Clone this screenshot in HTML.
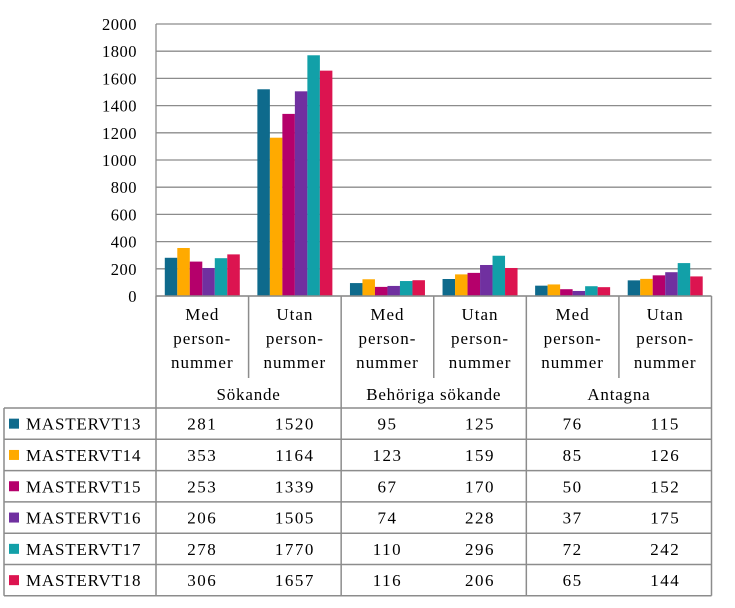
<!DOCTYPE html>
<html><head><meta charset="utf-8"><style>
html,body{margin:0;padding:0;background:#fff;}
svg{display:block;font-family:"Liberation Serif",serif;}
</style></head><body>
<svg id="chart" width="735" height="608" viewBox="0 0 735 608"></svg>
<script>
const categories=["Med person- nummer","Utan person- nummer","Med person- nummer","Utan person- nummer","Med person- nummer","Utan person- nummer"];
const groups=["Sökande","Behöriga sökande","Antagna"];
const seriesNames=["MASTERVT13","MASTERVT14","MASTERVT15","MASTERVT16","MASTERVT17","MASTERVT18"];
const s13=[281,1520,95,125,76,115];
const s14=[353,1164,123,159,85,126];
const s15=[253,1339,67,170,50,152];
const s16=[206,1505,74,228,37,175];
const s17=[278,1770,110,296,72,242];
const s18=[306,1657,116,206,65,144];
const yTicks=[0,200,400,600,800,1000,1200,1400,1600,1800,2000];
const series=[s13,s14,s15,s16,s17,s18];
const colors=["#0E6A8C","#FFAA00","#B5006B","#7030A0","#12A0A8","#DC1450"];

const svg=document.getElementById('chart');
const NS="http://www.w3.org/2000/svg";
function mk(tag,attrs,parent){const e=document.createElementNS(NS,tag);for(const k in attrs)e.setAttribute(k,attrs[k]);(parent||svg).appendChild(e);return e;}
const X0=156,X1=711.5,Y0=296,Y1=24,yMax=2000;
const colW=(X1-X0)/categories.length;
const y=v=>Y0-(v/yMax)*(Y0-Y1);
const xc=i=>X0+i*colW;
const grid="#8c8c8c";

// gridlines + y labels
yTicks.forEach(t=>{
  const l=mk('line',{x1:X0,x2:X1,y1:y(t),y2:y(t),stroke:grid,'stroke-width':1.3});
  
  
  const tx=mk('text',{x:137,y:y(t)+6,'text-anchor':'end','font-size':16.5,fill:'#000','letter-spacing':0.5});
  tx.textContent=t;
  
  
});
const ax=mk('line',{x1:X0,x2:X0,y1:Y1,y2:Y0,stroke:grid,'stroke-width':1.3});



// bars
const bw=12.5;
series.forEach((s,si)=>{
  s.forEach((v,ci)=>{
    const bx=xc(ci)+(colW-bw*6)/2+si*bw;
    const r=mk('rect',{x:bx,y:y(v),width:bw,height:Y0-y(v),fill:colors[si]});
    
    
  });
});

// table
const TL=4,rowTop=408,rowH=31.3,nRows=6,tBottom=rowTop+rowH*nRows;
const ln=(x1,y1,x2,y2)=>mk('line',{x1,y1,x2,y2,stroke:grid,'stroke-width':1.5});
// header verticals
for(let i=0;i<=categories.length;i++){
  const xx=xc(i);
  const top=Y0, bottom=(i%2===1)?378:tBottom;
  ln(xx,top,xx,bottom);
}
ln(X0,Y0,X1,Y0);
for(let r=0;r<=nRows;r++) ln(TL,rowTop+r*rowH,X1,rowTop+r*rowH);
ln(TL,rowTop,TL,tBottom);
// category labels
categories.forEach((c,ci)=>{
  const parts=c.split(' ');
  parts.forEach((p,pi)=>{
    const t=mk('text',{x:xc(ci)+colW/2,y:320+pi*24,'text-anchor':'middle','font-size':17,'letter-spacing':1});
    t.textContent=p;
    
    
  });
});
groups.forEach((g,gi)=>{
  const t=mk('text',{x:xc(gi*2)+colW,y:400,'text-anchor':'middle','font-size':17,'letter-spacing':0.8});
  t.textContent=g;
  
  
});
// rows
series.forEach((s,si)=>{
  const cy=rowTop+si*rowH+rowH/2;
  const sw=mk('rect',{x:9,y:cy-5,width:10,height:10,fill:colors[si]});
  
  
  const lt=mk('text',{x:26,y:cy+6,'font-size':17,'letter-spacing':0.8});
  lt.textContent=seriesNames[si];
  
  
  s.forEach((v,ci)=>{
    const t=mk('text',{x:xc(ci)+colW/2,y:cy+6,'text-anchor':'middle','font-size':17,'letter-spacing':1.5});
    t.textContent=v;
    
    
  });
});
</script>
</body></html>
